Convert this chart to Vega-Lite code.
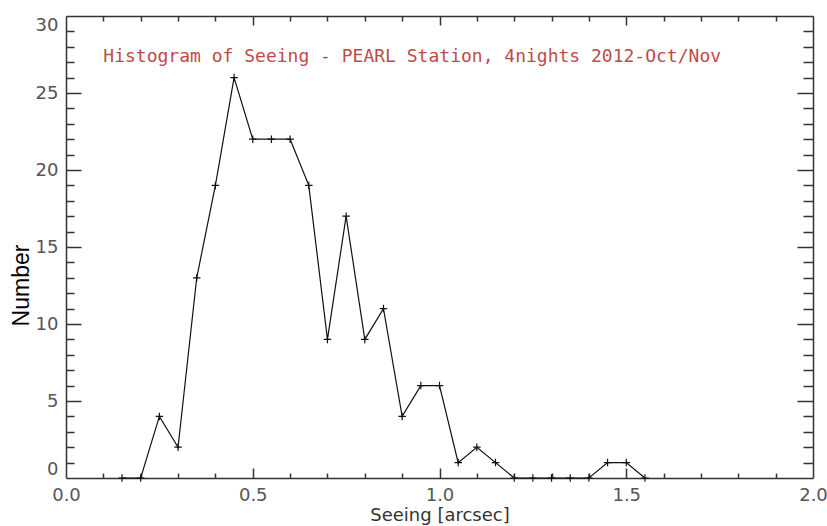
{
  "$schema": "https://vega.github.io/schema/vega-lite/v6.json",
  "width": 747,
  "height": 462,
  "autosize": {"type": "none"},
  "padding": {"left": 66, "top": 16, "right": 14, "bottom": 48},
  "background": "white",
  "config": {
    "view": {"stroke": null},
    "axis": {
      "grid": false,
      "domainColor": "#333333",
      "domainWidth": 1.5,
      "tickColor": "#333333",
      "tickWidth": 1.5,
      "labelFont": "DejaVu Sans",
      "labelFontSize": 18,
      "labelColor": "#555555",
      "titleFont": "DejaVu Sans",
      "titleFontWeight": "normal"
    }
  },
  "data": {
    "values": [
      {"seeing": 0.15, "count": 0},
      {"seeing": 0.2, "count": 0},
      {"seeing": 0.25, "count": 4},
      {"seeing": 0.3, "count": 2},
      {"seeing": 0.35, "count": 13},
      {"seeing": 0.4, "count": 19},
      {"seeing": 0.45, "count": 26},
      {"seeing": 0.5, "count": 22},
      {"seeing": 0.55, "count": 22},
      {"seeing": 0.6, "count": 22},
      {"seeing": 0.65, "count": 19},
      {"seeing": 0.7, "count": 9},
      {"seeing": 0.75, "count": 17},
      {"seeing": 0.8, "count": 9},
      {"seeing": 0.85, "count": 11},
      {"seeing": 0.9, "count": 4},
      {"seeing": 0.95, "count": 6},
      {"seeing": 1.0, "count": 6},
      {"seeing": 1.05, "count": 1},
      {"seeing": 1.1, "count": 2},
      {"seeing": 1.15, "count": 1},
      {"seeing": 1.2, "count": 0},
      {"seeing": 1.25, "count": 0},
      {"seeing": 1.3, "count": 0},
      {"seeing": 1.35, "count": 0},
      {"seeing": 1.4, "count": 0},
      {"seeing": 1.45, "count": 1},
      {"seeing": 1.5, "count": 1},
      {"seeing": 1.55, "count": 0}
    ]
  },
  "resolve": {"axis": {"x": "independent", "y": "independent"}},
  "layer": [
    {
      "mark": {"type": "line", "color": "#111111", "strokeWidth": 1.2, "interpolate": "linear"},
      "encoding": {
        "x": {
          "field": "seeing", "type": "quantitative",
          "scale": {"domain": [0, 2], "nice": false, "zero": false},
          "axis": {
            "orient": "bottom", "values": [0, 0.5, 1, 1.5, 2], "format": ".1f",
            "ticks": false, "labelPadding": 8, "labelFlush": false,
            "title": "Seeing [arcsec]", "titleFontSize": 18, "titleColor": "#333333",
            "titleY": 28, "titleBaseline": "top"
          }
        },
        "y": {
          "field": "count", "type": "quantitative",
          "scale": {"domain": [0, 30], "nice": false, "zero": false},
          "axis": {
            "orient": "left", "values": [0, 5, 10, 15, 20, 25, 30],
            "ticks": false, "labelPadding": 8, "labelFlush": true,
            "title": "Number", "titleFont": "Liberation Sans", "titleFontSize": 23,
            "titleColor": "#000000", "titleAngle": 270, "titleAlign": "center",
            "titleBaseline": "alphabetic", "titleX": -38, "titleY": 269
          }
        }
      }
    },
    {
      "mark": {
        "type": "point", "shape": "M-1,0L1,0M0,-1L0,1", "filled": false,
        "stroke": "#111111", "strokeWidth": 1.2, "size": 56, "opacity": 1
      },
      "encoding": {
        "x": {"field": "seeing", "type": "quantitative", "scale": {"domain": [0, 2], "nice": false, "zero": false}, "axis": null},
        "y": {"field": "count", "type": "quantitative", "scale": {"domain": [0, 30], "nice": false, "zero": false}, "axis": null}
      }
    },
    {
      "mark": {"type": "point", "opacity": 0},
      "encoding": {
        "x": {
          "field": "seeing", "type": "quantitative",
          "scale": {"domain": [0, 2], "nice": false, "zero": false},
          "axis": {"orient": "bottom", "values": [0.5, 1, 1.5], "tickSize": -10, "labels": false, "domain": false, "title": null}
        },
        "y": {
          "field": "count", "type": "quantitative",
          "scale": {"domain": [0, 30], "nice": false, "zero": false},
          "axis": {"orient": "left", "values": [5, 10, 15, 20, 25], "tickSize": -15, "labels": false, "domain": false, "title": null}
        }
      }
    },
    {
      "mark": {"type": "point", "opacity": 0},
      "encoding": {
        "x": {
          "field": "seeing", "type": "quantitative",
          "scale": {"domain": [0, 2], "nice": false, "zero": false},
          "axis": {"orient": "bottom", "values": [0.1, 0.2, 0.3, 0.4, 0.6, 0.7, 0.8, 0.9, 1.1, 1.2, 1.3, 1.4, 1.6, 1.7, 1.8, 1.9], "tickSize": -5, "labels": false, "domain": false, "title": null}
        },
        "y": {
          "field": "count", "type": "quantitative",
          "scale": {"domain": [0, 30], "nice": false, "zero": false},
          "axis": {"orient": "left", "values": [1, 2, 3, 4, 6, 7, 8, 9, 11, 12, 13, 14, 16, 17, 18, 19, 21, 22, 23, 24, 26, 27, 28, 29], "tickSize": -8, "labels": false, "domain": false, "title": null}
        }
      }
    },
    {
      "mark": {"type": "point", "opacity": 0},
      "encoding": {
        "x": {
          "field": "seeing", "type": "quantitative",
          "scale": {"domain": [0, 2], "nice": false, "zero": false},
          "axis": {"orient": "top", "values": [0.5, 1, 1.5], "tickSize": -9, "labels": false, "domain": true, "title": null}
        },
        "y": {
          "field": "count", "type": "quantitative",
          "scale": {"domain": [0, 30], "nice": false, "zero": false},
          "axis": {"orient": "right", "values": [5, 10, 15, 20, 25], "tickSize": -16, "labels": false, "domain": true, "title": null}
        }
      }
    },
    {
      "mark": {"type": "point", "opacity": 0},
      "encoding": {
        "x": {
          "field": "seeing", "type": "quantitative",
          "scale": {"domain": [0, 2], "nice": false, "zero": false},
          "axis": {"orient": "top", "values": [0.1, 0.2, 0.3, 0.4, 0.6, 0.7, 0.8, 0.9, 1.1, 1.2, 1.3, 1.4, 1.6, 1.7, 1.8, 1.9], "tickSize": -5, "labels": false, "domain": false, "title": null}
        },
        "y": {
          "field": "count", "type": "quantitative",
          "scale": {"domain": [0, 30], "nice": false, "zero": false},
          "axis": {"orient": "right", "values": [1, 2, 3, 4, 6, 7, 8, 9, 11, 12, 13, 14, 16, 17, 18, 19, 21, 22, 23, 24, 26, 27, 28, 29], "tickSize": -10, "labels": false, "domain": false, "title": null}
        }
      }
    },
    {
      "data": {"values": [{"caption": "Histogram of Seeing - PEARL Station, 4nights 2012-Oct/Nov"}]},
      "mark": {
        "type": "text",
        "font": "DejaVu Sans Mono", "fontSize": 18, "color": "#c04a4a",
        "align": "left", "baseline": "alphabetic"
      },
      "encoding": {
        "text": {"field": "caption", "type": "nominal"},
        "x": {"datum": 0.1, "type": "quantitative", "scale": {"domain": [0, 2], "nice": false, "zero": false}, "axis": null},
        "y": {"datum": 27, "type": "quantitative", "scale": {"domain": [0, 30], "nice": false, "zero": false}, "axis": null}
      }
    }
  ]
}
